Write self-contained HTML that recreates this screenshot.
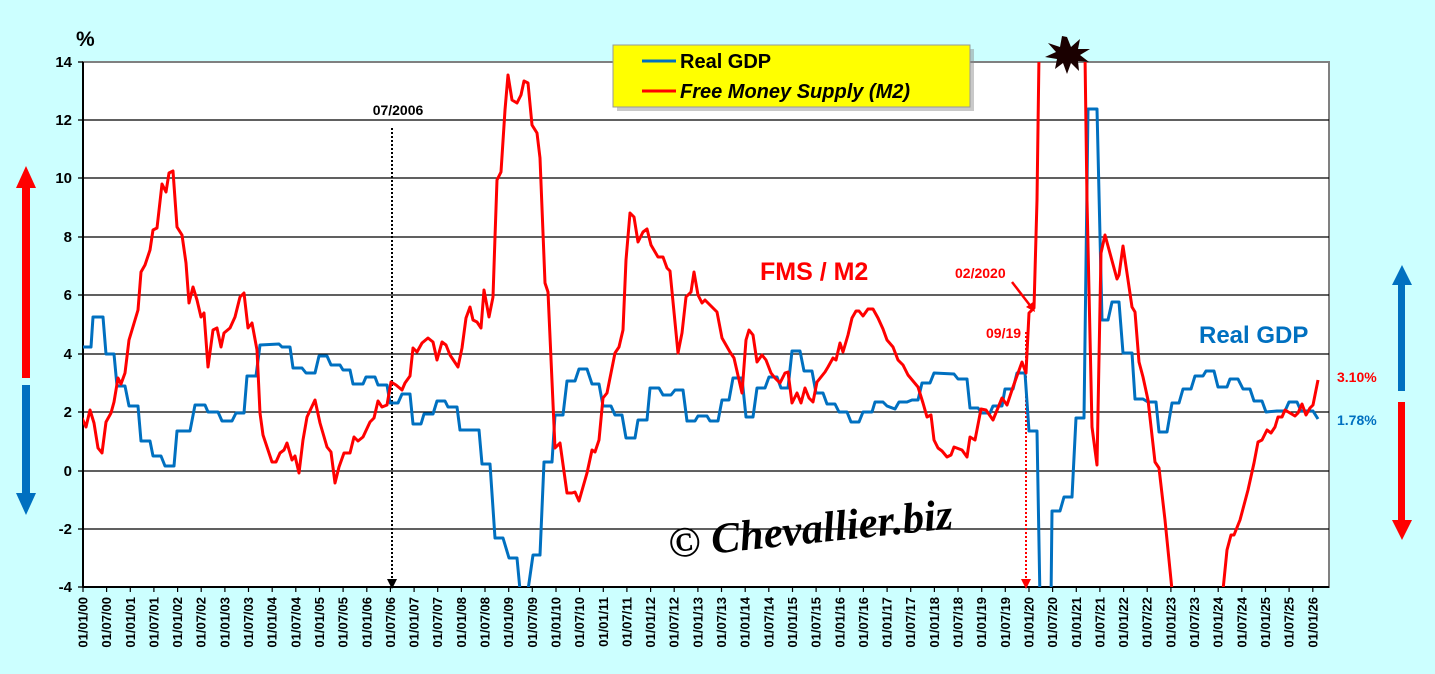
<!DOCTYPE html>
<html><head><meta charset="utf-8"><style>
html,body{margin:0;padding:0;background:#ccffff;}
svg{display:block;font-family:"Liberation Sans",Arial,sans-serif;}
</style></head><body>
<svg width="1435" height="674" viewBox="0 0 1435 674" xmlns="http://www.w3.org/2000/svg">
<rect width="1435" height="674" fill="#ccffff"/>
<defs><clipPath id="c"><rect x="83" y="62" width="1246" height="525"/></clipPath></defs>
<rect x="83" y="62" width="1246" height="525" fill="#fff" stroke="#808080" stroke-width="2"/>
<g stroke="#000" stroke-width="1.3">
<line x1="83" x2="1329" y1="120" y2="120"/><line x1="83" x2="1329" y1="178" y2="178"/>
<line x1="83" x2="1329" y1="237" y2="237"/><line x1="83" x2="1329" y1="295" y2="295"/>
<line x1="83" x2="1329" y1="354" y2="354"/><line x1="83" x2="1329" y1="412" y2="412"/>
<line x1="83" x2="1329" y1="471" y2="471"/><line x1="83" x2="1329" y1="529" y2="529"/>
<line x1="83" x2="83" y1="62" y2="587" stroke-width="2"/>
<line x1="83" x2="1329" y1="587" y2="587" stroke-width="2"/>
</g>
<g stroke="#000" stroke-width="1.3">
<line x1="78" x2="83" y1="62" y2="62"/><line x1="78" x2="83" y1="120" y2="120"/><line x1="78" x2="83" y1="178" y2="178"/><line x1="78" x2="83" y1="237" y2="237"/><line x1="78" x2="83" y1="295" y2="295"/><line x1="78" x2="83" y1="354" y2="354"/><line x1="78" x2="83" y1="412" y2="412"/><line x1="78" x2="83" y1="471" y2="471"/><line x1="78" x2="83" y1="529" y2="529"/><line x1="78" x2="83" y1="587" y2="587"/>
</g>
<g font-size="15" font-weight="bold" text-anchor="end" fill="#000">
<text x="72" y="67">14</text><text x="72" y="125">12</text><text x="72" y="183">10</text><text x="72" y="242">8</text><text x="72" y="300">6</text><text x="72" y="359">4</text><text x="72" y="417">2</text><text x="72" y="476">0</text><text x="72" y="534">-2</text><text x="72" y="592">-4</text>
</g>
<text x="76" y="46" font-size="21" font-weight="bold">%</text>

<g font-size="13" font-weight="bold" text-anchor="end" fill="#000">
<text transform="translate(87.5,597) rotate(-90)">01/01/00</text>
<text transform="translate(111.1,597) rotate(-90)">01/07/00</text>
<text transform="translate(134.8,597) rotate(-90)">01/01/01</text>
<text transform="translate(158.4,597) rotate(-90)">01/07/01</text>
<text transform="translate(182.1,597) rotate(-90)">01/01/02</text>
<text transform="translate(205.7,597) rotate(-90)">01/07/02</text>
<text transform="translate(229.4,597) rotate(-90)">01/01/03</text>
<text transform="translate(253.0,597) rotate(-90)">01/07/03</text>
<text transform="translate(276.7,597) rotate(-90)">01/01/04</text>
<text transform="translate(300.3,597) rotate(-90)">01/07/04</text>
<text transform="translate(324.0,597) rotate(-90)">01/01/05</text>
<text transform="translate(347.6,597) rotate(-90)">01/07/05</text>
<text transform="translate(371.3,597) rotate(-90)">01/01/06</text>
<text transform="translate(394.9,597) rotate(-90)">01/07/06</text>
<text transform="translate(418.6,597) rotate(-90)">01/01/07</text>
<text transform="translate(442.2,597) rotate(-90)">01/07/07</text>
<text transform="translate(465.9,597) rotate(-90)">01/01/08</text>
<text transform="translate(489.5,597) rotate(-90)">01/07/08</text>
<text transform="translate(513.2,597) rotate(-90)">01/01/09</text>
<text transform="translate(536.8,597) rotate(-90)">01/07/09</text>
<text transform="translate(560.5,597) rotate(-90)">01/01/10</text>
<text transform="translate(584.1,597) rotate(-90)">01/07/10</text>
<text transform="translate(607.8,597) rotate(-90)">01/01/11</text>
<text transform="translate(631.4,597) rotate(-90)">01/07/11</text>
<text transform="translate(655.1,597) rotate(-90)">01/01/12</text>
<text transform="translate(678.7,597) rotate(-90)">01/07/12</text>
<text transform="translate(702.4,597) rotate(-90)">01/01/13</text>
<text transform="translate(726.0,597) rotate(-90)">01/07/13</text>
<text transform="translate(749.7,597) rotate(-90)">01/01/14</text>
<text transform="translate(773.3,597) rotate(-90)">01/07/14</text>
<text transform="translate(797.0,597) rotate(-90)">01/01/15</text>
<text transform="translate(820.6,597) rotate(-90)">01/07/15</text>
<text transform="translate(844.3,597) rotate(-90)">01/01/16</text>
<text transform="translate(867.9,597) rotate(-90)">01/07/16</text>
<text transform="translate(891.6,597) rotate(-90)">01/01/17</text>
<text transform="translate(915.2,597) rotate(-90)">01/07/17</text>
<text transform="translate(938.9,597) rotate(-90)">01/01/18</text>
<text transform="translate(962.5,597) rotate(-90)">01/07/18</text>
<text transform="translate(986.2,597) rotate(-90)">01/01/19</text>
<text transform="translate(1009.8,597) rotate(-90)">01/07/19</text>
<text transform="translate(1033.5,597) rotate(-90)">01/01/20</text>
<text transform="translate(1057.1,597) rotate(-90)">01/07/20</text>
<text transform="translate(1080.8,597) rotate(-90)">01/01/21</text>
<text transform="translate(1104.4,597) rotate(-90)">01/07/21</text>
<text transform="translate(1128.1,597) rotate(-90)">01/01/22</text>
<text transform="translate(1151.7,597) rotate(-90)">01/07/22</text>
<text transform="translate(1175.4,597) rotate(-90)">01/01/23</text>
<text transform="translate(1199.0,597) rotate(-90)">01/07/23</text>
<text transform="translate(1222.7,597) rotate(-90)">01/01/24</text>
<text transform="translate(1246.3,597) rotate(-90)">01/07/24</text>
<text transform="translate(1270.0,597) rotate(-90)">01/01/25</text>
<text transform="translate(1293.6,597) rotate(-90)">01/07/25</text>
<text transform="translate(1317.3,597) rotate(-90)">01/01/26</text>
</g>
<path stroke="#000" stroke-width="1.2" d="M83,587v5M106.6,587v5M130.3,587v5M153.9,587v5M177.6,587v5M201.2,587v5M224.9,587v5M248.5,587v5M272.2,587v5M295.8,587v5M319.5,587v5M343.1,587v5M366.8,587v5M390.4,587v5M414.1,587v5M437.7,587v5M461.4,587v5M485,587v5M508.7,587v5M532.3,587v5M556,587v5M579.6,587v5M603.3,587v5M626.9,587v5M650.6,587v5M674.2,587v5M697.9,587v5M721.5,587v5M745.2,587v5M768.8,587v5M792.5,587v5M816.1,587v5M839.8,587v5M863.4,587v5M887.1,587v5M910.7,587v5M934.4,587v5M958,587v5M981.7,587v5M1005.3,587v5M1029,587v5M1052.6,587v5M1076.3,587v5M1099.9,587v5M1123.6,587v5M1147.2,587v5M1170.9,587v5M1194.5,587v5M1218.2,587v5M1241.8,587v5M1265.5,587v5M1289.1,587v5M1312.8,587v5"/>

<line x1="392" y1="128" x2="392" y2="580" stroke="#000" stroke-width="2" stroke-dasharray="2,2"/>
<polygon points="387,579 397,579 392,589" fill="#000"/>
<text x="398" y="115" font-size="14" font-weight="bold" text-anchor="middle">07/2006</text>
<line x1="1026" y1="332" x2="1026" y2="580" stroke="#f00" stroke-width="2" stroke-dasharray="2,2"/>
<polygon points="1021,579 1031,579 1026,589" fill="#f00"/>

<g clip-path="url(#c)" fill="none" stroke-linejoin="round">
<polyline stroke="#0070c0" stroke-width="3" points="82,347 91,347 93,317 103,317 106,354 114,354 117,386 125,386 129,406 138,406 141,441 150,441 153,456 161,456 165,466 174,466 177,431 190,431 195,405 205,405 208,412 218,412 222,421 232,421 236,413 244,413 247,376 256,376 260,345 279,344 282,347 290,347 293,368 302,368 306,373 315,373 319,356 327,356 331,365 340,365 343,370 350,370 353,384 363,384 366,377 375,377 378,385 387,385 390,403 398,403 402,394 410,394 413,424 421,424 424,414 433,414 437,401 445,401 448,407 457,407 460,430 479,430 482,464 490,464 495,538 503,538 509,558 517,558 520,590 528,590 533,555 540,555 544,462 552,462 555,415 563,415 567,381 575,381 579,369 587,369 592,384 599,384 603,406 611,406 615,415 622,415 626,438 635,438 638,420 647,420 650,388 659,388 663,395 671,395 675,390 683,390 687,421 695,421 698,416 707,416 710,421 718,421 722,400 729,400 733,378 742,378 746,417 753,417 757,388 765,388 769,377 777,377 781,388 788,388 792,351 800,351 804,371 812,371 816,393 823,393 827,404 835,404 839,412 847,412 851,422 859,422 863,412 872,412 875,402 883,402 887,406 895,409 899,402 907,402 912,400 918,400 922,383 930,383 934,373 954,374 958,379 967,379 970,408 978,408 982,413 990,413 993,406 1002,406 1005,389 1013,389 1017,373 1025,373 1029,431 1037,431 1040,600 1051,600 1052,511 1060,511 1064,497 1072,497 1076,418 1084,418 1088,109 1097,109 1102,320 1108,320 1112,302 1119,302 1123,353 1132,353 1135,399 1143,399 1148,402 1156,402 1159,432 1167,432 1172,403 1179,403 1183,389 1191,389 1195,376 1203,376 1206,371 1214,371 1218,387 1227,387 1230,379 1238,379 1243,389 1250,389 1254,401 1262,401 1266,412 1277,411 1285,411 1289,402 1297,402 1301,411 1313,411 1318,419"/>
<polyline stroke="#f00" stroke-width="3" points="82,418 86,427 90,410 94,423 98,448 102,453 106,422 111,413 114,402 118,378 121,384 125,373 129,340 135,320 138,310 141,272 145,265 150,250 153,230 157,228 162,184 166,192 169,173 173,171 177,227 182,235 186,263 189,303 193,287 197,300 201,317 204,313 208,367 213,330 217,328 221,347 224,333 230,328 235,317 240,297 244,293 248,328 252,323 257,350 260,413 263,435 272,462 276,462 280,453 284,450 287,443 292,460 295,456 299,473 303,440 307,417 315,400 320,423 327,447 331,452 335,483 339,467 344,453 350,453 354,437 358,441 363,437 370,422 374,418 378,401 382,407 387,405 391,382 396,385 402,390 405,383 410,376 413,348 417,352 422,343 428,338 433,342 437,360 442,342 446,345 450,355 458,367 462,348 466,318 470,307 473,320 477,322 481,328 484,290 489,317 493,297 495,237 497,180 501,172 505,110 508,75 512,100 517,103 521,95 524,81 528,83 532,125 537,133 540,158 545,283 548,292 555,448 560,443 567,493 572,493 575,492 579,501 583,487 587,473 592,450 595,452 599,440 603,398 607,393 615,353 619,347 623,330 626,260 630,213 634,217 638,242 643,232 647,229 651,245 658,257 663,257 667,268 670,271 678,353 682,333 686,297 691,292 694,272 698,295 702,303 705,300 710,305 717,312 722,338 730,352 734,358 742,393 746,340 749,330 753,335 757,362 762,355 766,360 771,373 775,378 780,383 785,373 788,372 792,403 797,393 801,403 805,388 809,398 813,402 817,382 825,372 828,367 833,358 836,360 840,343 843,352 848,335 852,318 856,311 859,311 863,316 868,309 873,309 878,318 883,329 887,340 893,347 898,360 903,365 908,375 918,387 923,403 927,417 931,415 934,440 938,448 942,451 947,457 951,455 954,447 962,450 967,457 970,437 975,440 981,409 986,410 993,420 1002,398 1007,405 1013,387 1022,362 1026,373 1029,313 1034,308 1037,200 1039,55 1085,55 1087,200 1092,427 1097,465 1101,253 1105,235 1117,279 1119,275 1123,246 1132,307 1135,312 1139,362 1143,377 1148,400 1155,462 1159,468 1165,520 1173,600 1222,600 1227,550 1231,535 1234,535 1240,520 1248,490 1254,463 1258,442 1262,440 1267,430 1271,433 1275,427 1278,417 1282,417 1285,410 1290,413 1295,416 1298,413 1302,404 1306,415 1310,408 1313,405 1318,380"/>
</g>

<text x="955" y="278" font-size="14" font-weight="bold" fill="#f00">02/2020</text>
<line x1="1012" y1="282" x2="1032" y2="308" stroke="#f00" stroke-width="2.5"/>
<polygon points="1026,307 1035,312 1033,302" fill="#f00"/>
<text x="986" y="338" font-size="14" font-weight="bold" fill="#f00">09/19</text>
<text x="760" y="280" font-size="25" font-weight="bold" fill="#f00">FMS / M2</text>
<text x="1199" y="343" font-size="24" font-weight="bold" fill="#0070c0">Real GDP</text>
<text x="1337" y="382" font-size="14" font-weight="bold" fill="#f00">3.10%</text>
<text x="1337" y="425" font-size="14" font-weight="bold" fill="#0070c0">1.78%</text>

<polygon fill="#1a0000" points="1067,37 1071,47 1080,39 1078,49 1090,49 1080,55 1089,62 1078,61 1079,71 1071,63 1067,74 1063,63 1055,69 1057,59 1045,57 1056,52 1048,43 1060,47 1062,36"/>

<rect x="617" y="49" width="357" height="62" fill="#888" opacity="0.45"/>
<rect x="613" y="45" width="357" height="62" fill="#ffff00" stroke="#999" stroke-width="1"/>
<line x1="642" x2="676" y1="61" y2="61" stroke="#0070c0" stroke-width="3"/>
<line x1="642" x2="676" y1="91" y2="91" stroke="#f00" stroke-width="3"/>
<text x="680" y="68" font-size="20" font-weight="bold">Real GDP</text>
<text x="680" y="98" font-size="20" font-weight="bold" font-style="italic">Free Money Supply (M2)</text>

<text transform="translate(670,558) rotate(-6)" font-family="'Liberation Serif',serif" font-size="43" font-style="italic" font-weight="bold" fill="#000">© Chevallier.biz</text>

<rect x="22" y="186" width="8" height="192" fill="#f00"/>
<polygon points="16,188 36,188 26,166" fill="#f00"/>
<rect x="22" y="385" width="8" height="110" fill="#0070c0"/>
<polygon points="16,493 36,493 26,515" fill="#0070c0"/>
<rect x="1398" y="283" width="7" height="108" fill="#0070c0"/>
<polygon points="1392,285 1412,285 1402,265" fill="#0070c0"/>
<rect x="1398" y="402" width="7" height="120" fill="#f00"/>
<polygon points="1392,520 1412,520 1402,540" fill="#f00"/>
</svg>
</body></html>
